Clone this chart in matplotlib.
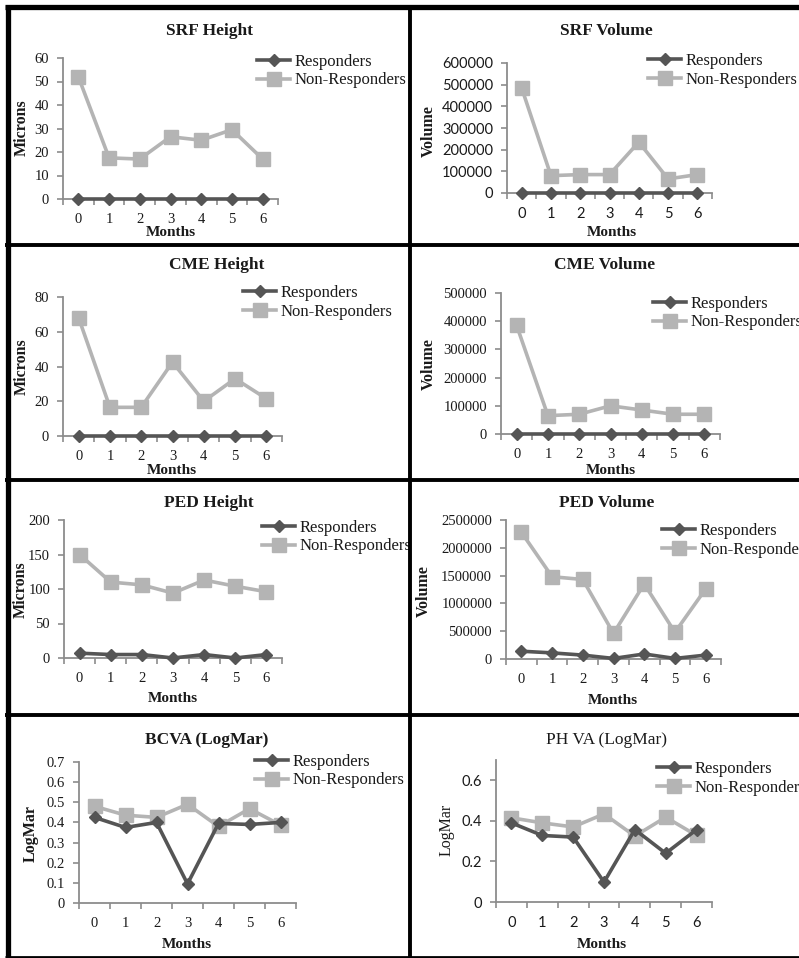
import matplotlib
matplotlib.use("Agg")
import matplotlib.pyplot as plt
from matplotlib.lines import Line2D
from matplotlib.ticker import FixedLocator, FuncFormatter

W, H = 799, 958

months = [0, 1, 2, 3, 4, 5, 6]
series_names = ["Responders", "Non-Responders"]

srf_height_resp = [0, 0, 0, 0, 0, 0, 0]
srf_height_non = [52, 17.5, 17, 26.5, 25, 29.5, 17]
srf_volume_resp = [0, 0, 0, 0, 0, 0, 0]
srf_volume_non = [485000, 80000, 85000, 85000, 235000, 65000, 85000]
cme_height_resp = [0, 0, 0, 0, 0, 0, 0]
cme_height_non = [68, 16.5, 16.5, 42.5, 20, 33, 21.5]
cme_volume_resp = [0, 0, 0, 0, 0, 0, 0]
cme_volume_non = [385000, 65000, 70000, 100000, 85000, 70000, 70000]
ped_height_resp = [7, 5, 5, 0, 5, 0, 5]
ped_height_non = [150, 110, 106, 94, 113, 104, 96]
ped_volume_resp = [140000, 110000, 70000, 10000, 90000, 10000, 70000]
ped_volume_non = [2280000, 1480000, 1430000, 460000, 1350000, 480000, 1260000]
bcva_resp = [0.425, 0.375, 0.40, 0.095, 0.395, 0.39, 0.40]
bcva_non = [0.48, 0.436, 0.425, 0.49, 0.38, 0.468, 0.387]
phva_resp = [0.39, 0.328, 0.32, 0.098, 0.357, 0.24, 0.357]
phva_non = [0.415, 0.39, 0.37, 0.434, 0.325, 0.418, 0.328]

titles = ["SRF Height", "SRF Volume", "CME Height", "CME Volume",
          "PED Height", "PED Volume", "BCVA (LogMar)", "PH VA (LogMar)"]
ylabels = ["Microns", "Volume", "Microns", "Volume", "Microns", "Volume", "LogMar", "LogMar"]
yticks = [
    [0, 10, 20, 30, 40, 50, 60],
    [0, 100000, 200000, 300000, 400000, 500000, 600000],
    [0, 20, 40, 60, 80],
    [0, 100000, 200000, 300000, 400000, 500000],
    [0, 50, 100, 150, 200],
    [0, 500000, 1000000, 1500000, 2000000, 2500000],
    [0, 0.1, 0.2, 0.3, 0.4, 0.5, 0.6, 0.7],
    [0, 0.2, 0.4, 0.6],
]
ymax = [60, 600000, 80, 500000, 200, 2500000, 0.7, 0.7]
data = [
    (srf_height_resp, srf_height_non), (srf_volume_resp, srf_volume_non),
    (cme_height_resp, cme_height_non), (cme_volume_resp, cme_volume_non),
    (ped_height_resp, ped_height_non), (ped_volume_resp, ped_volume_non),
    (bcva_resp, bcva_non), (phva_resp, phva_non),
]

# layout in pixels: (yaxis_x, right_x, top_y, zero_y)
axes_px = [
    (63, 278, 58, 199), (507, 712, 63, 193),
    (63, 282, 297, 436), (501, 720, 293, 434),
    (64, 282, 520, 658), (506, 721, 520, 659),
    (79, 296, 762, 903), (496, 712, 760, 902),
]
title_px = [(210, 31), (606, 31), (217, 265), (605, 265),
            (209, 503), (607, 503), (207, 740), (607, 740)]
ylabel_px = [(22, 128), (429, 131), (22, 367), (429, 364),
             (21, 590), (424, 591), (31, 833), (447, 830)]
months_px = [(171, 232), (612, 232), (172, 470), (611, 470),
             (173, 699), (613, 700), (187, 945), (602, 945)]
legend_px = [(257, 54), (648, 53), (243, 285), (653, 296),
             (262, 520), (662, 523), (255, 754), (657, 761)]

sans_ticks = [False, True, False, False, False, False, False, True]
bold_title = [True, True, True, True, True, True, True, False]
bold_ylabel = [True, True, True, True, True, True, True, False]

SERIF = "Liberation Serif"
SANS = "Lato"
RCOL = "#555555"
NCOL = "#b4b4b4"
TXT = "#1a1a1a"
SPINE = "#8c8c8c"

fig = plt.figure(figsize=(W / 100, H / 100), dpi=100)
fig.patch.set_facecolor("white")


def fmt(v, pos=None):
    if abs(v - round(v)) < 1e-9:
        return str(int(round(v)))
    return f"{v:.1f}"


for i in range(8):
    x0, x1, yt, yz = axes_px[i]
    ax = fig.add_axes([x0 / W, 1 - yz / H, (x1 - x0) / W, (yz - yt) / H])
    resp, non = data[i]
    lr, = ax.plot(months, resp, color=RCOL, lw=2.6, marker="D", ms=6.5,
                  mfc=RCOL, mec=RCOL, clip_on=False, zorder=4, label=series_names[0])
    ln, = ax.plot(months, non, color=NCOL, lw=2.6, marker="s", ms=9.5,
                  mfc=NCOL, mec=NCOL, clip_on=False, zorder=3, label=series_names[1])
    ax.set_xlim(-0.5, 6.5)
    ax.set_ylim(0, ymax[i])
    ax.set_yticks(yticks[i])
    ax.yaxis.set_major_formatter(FuncFormatter(fmt))
    ax.set_xticks(months)
    ax.xaxis.set_minor_locator(FixedLocator([k - 0.5 for k in range(8)]))
    for s in ["top", "right"]:
        ax.spines[s].set_visible(False)
    for s in ["left", "bottom"]:
        ax.spines[s].set_color(SPINE)
        ax.spines[s].set_linewidth(1.3)
    ax.tick_params(axis="x", which="major", length=0, pad=10, labelsize=10.5, labelcolor=TXT)
    ax.tick_params(axis="x", which="minor", length=4, width=1.2, color=SPINE, direction="out")
    ax.tick_params(axis="y", which="major", length=4, width=1.2, color=SPINE, pad=6,
                   labelsize=10.5, labelcolor=TXT)
    fam = SANS if sans_ticks[i] else SERIF
    for lab in ax.get_xticklabels() + ax.get_yticklabels():
        lab.set_family(fam)
    ax.patch.set_alpha(0)

    tx, ty = title_px[i]
    fig.text(tx / W, 1 - ty / H, titles[i], ha="center", va="center", family=SERIF,
             fontsize=12.5, fontweight="bold" if bold_title[i] else "normal", color=TXT)
    lx, ly = ylabel_px[i]
    fig.text(lx / W, 1 - ly / H, ylabels[i], ha="center", va="center", rotation=90,
             family=SERIF, fontsize=11.5, fontweight="bold" if bold_ylabel[i] else "normal",
             color=TXT)
    mx, my = months_px[i]
    fig.text(mx / W, 1 - my / H, "Months", ha="center", va="center", family=SERIF,
             fontsize=11, fontweight="bold", color=TXT)
    gx, gy = legend_px[i]
    leg = ax.legend(handles=[lr, ln], loc="upper left",
                    bbox_to_anchor=(gx / W, 1 - gy / H), bbox_transform=fig.transFigure,
                    frameon=False, handlelength=2.0, handletextpad=0.25, labelspacing=0.15,
                    borderpad=0, borderaxespad=0, prop={"family": SERIF, "size": 12})
    for t in leg.get_texts():
        t.set_color(TXT)
    leg.set_clip_on(False)

# panel borders
def hline(y, x0, x1, lw):
    fig.add_artist(Line2D([x0 / W, x1 / W], [1 - y / H, 1 - y / H], color="black",
                          lw=lw, transform=fig.transFigure, solid_capstyle="butt"))


def vline(x, y0, y1, lw):
    fig.add_artist(Line2D([x / W, x / W], [1 - y0 / H, 1 - y1 / H], color="black",
                          lw=lw, transform=fig.transFigure, solid_capstyle="butt"))

hline(7, 5, W, 3.8)
hline(244.5, 5, W, 2.8)
hline(479.5, 5, W, 2.8)
hline(714.5, 5, W, 2.8)
hline(956.5, 5, W, 2.0)
vline(8, 5, H, 3.8)
vline(409.5, 5, H, 2.8)

fig.savefig("out.png", dpi=100)
